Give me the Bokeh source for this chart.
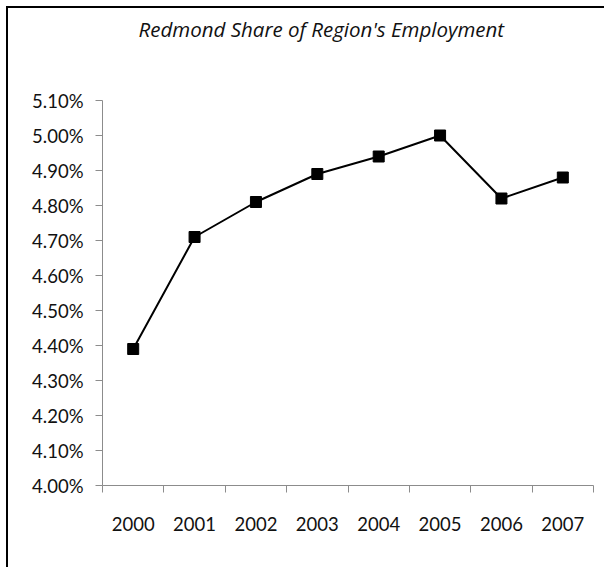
from bokeh.plotting import figure
from bokeh.models import Range1d, FixedTicker, LinearAxis, PrintfTickFormatter
from bokeh.embed import file_html
from bokeh.resources import INLINE

# Redmond's share of regional employment, percent
years = ["2000", "2001", "2002", "2003", "2004", "2005", "2006", "2007"]
share = [4.39, 4.71, 4.81, 4.89, 4.94, 5.00, 4.82, 4.88]
y_ticks = [4.00, 4.10, 4.20, 4.30, 4.40, 4.50, 4.60, 4.70, 4.80, 4.90, 5.00, 5.10]
title_text = "Redmond Share of Region's Employment"

FONT = "Lato"
GRID = "#b4b4b4"
AXIS = "#8c8c8c"

# one unit per year; points sit in the middle of each slot
x_pos = [i + 0.5 for i in range(len(years))]
boundaries = list(range(len(years) + 1))

p = figure(width=604, height=567,
           x_range=Range1d(0, len(years)),
           y_range=Range1d(y_ticks[0], y_ticks[-1]),
           output_backend="svg", toolbar_location=None,
           x_axis_type=None, y_axis_type=None,
           min_border_left=102, min_border_right=11,
           min_border_top=100, min_border_bottom=82)
p.outline_line_color = None
p.background_fill_color = "white"
p.border_fill_color = None

# chart box: left and top rules painted behind the transparent border area
p.styles = {"background-color": "white",
            "box-shadow": "inset 6px 6px 0 0 #ffffff, inset 8px 8px 0 0 #000000"}

# title at the top of the box
p.title.text = title_text
p.title.align = "left"
p.title.offset = 36
p.title.vertical_align = "top"
p.title.text_font = "Open Sans"
p.title.text_font_style = "italic"
p.title.text_font_size = "20.5px"
p.title.text_color = "#111111"
p.title.standoff = 20

# empty band between the title and the plotting area
spacer = LinearAxis(ticker=FixedTicker(ticks=[len(years) / 2]),
                    major_label_overrides={len(years) / 2: " "})
spacer.axis_line_color = None
spacer.major_tick_line_color = None
spacer.minor_tick_line_color = None
spacer.major_tick_out = 42
spacer.major_tick_in = 0
spacer.major_label_standoff = 0
spacer.major_label_text_font_size = "1px"
spacer.major_label_text_color = "white"
p.add_layout(spacer, "above")

# y axis with percent labels
yaxis = LinearAxis(ticker=FixedTicker(ticks=y_ticks),
                   formatter=PrintfTickFormatter(format="%.2f%%"))
yaxis.axis_line_color = AXIS
yaxis.major_tick_line_color = AXIS
yaxis.major_tick_out = 7
yaxis.major_tick_in = 0
yaxis.minor_tick_line_color = None
yaxis.major_label_standoff = 12
yaxis.major_label_text_font = FONT
yaxis.major_label_text_font_size = "18.5px"
yaxis.major_label_text_color = "#111111"
p.add_layout(yaxis, "left")

# x axis: year labels centred in slots, tick marks on slot boundaries
xaxis = LinearAxis(ticker=FixedTicker(ticks=x_pos, minor_ticks=boundaries),
                   major_label_overrides={x: y for x, y in zip(x_pos, years)})
xaxis.axis_line_color = AXIS
xaxis.major_tick_line_color = None
xaxis.major_tick_out = 0
xaxis.major_tick_in = 0
xaxis.minor_tick_line_color = AXIS
xaxis.minor_tick_out = 7
xaxis.minor_tick_in = 0
xaxis.major_label_standoff = 24
xaxis.major_label_text_font = FONT
xaxis.major_label_text_font_size = "18.5px"
xaxis.major_label_text_color = "#111111"
p.add_layout(xaxis, "below")

# horizontal gridlines
p.ygrid.ticker = FixedTicker(ticks=y_ticks)
p.ygrid.grid_line_color = GRID
p.ygrid.grid_line_width = 1
p.xgrid.visible = False

# series
p.line(x_pos, share, line_color="black", line_width=2)
p.scatter(x_pos, share, marker="square", size=11,
          fill_color="black", line_color="black")

open("out.html", "w").write(file_html(p, INLINE))
